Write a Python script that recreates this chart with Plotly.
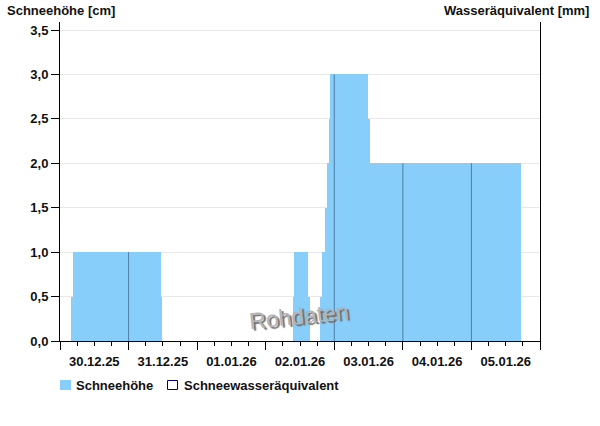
import plotly.graph_objects as go
import pandas as pd

# Snow height (cm): step changes (time the value starts, value)
change_times = [
    "2025-12-30 04:10", "2025-12-30 04:30", "2025-12-31 11:20", "2025-12-31 11:40",
    "2026-01-02 09:40", "2026-01-02 10:00", "2026-01-02 14:50", "2026-01-02 15:10",
    "2026-01-02 19:20", "2026-01-02 19:40", "2026-01-02 21:00", "2026-01-02 21:20",
    "2026-01-02 22:10", "2026-01-02 22:30", "2026-01-03 11:50", "2026-01-03 12:10",
    "2026-01-05 17:20",
]
snow_cm = [0.5, 1.0, 0.5, 0.0, 0.5, 1.0, 0.5, 0.0,
           0.5, 1.0, 1.5, 2.0, 2.5, 3.0, 2.5, 2.0, 0.0]

# Snow water equivalent (mm): no values in this period
swe_times = []
swe_mm = []

legend_names = ["Schneehöhe", "Schneewasseräquivalent"]

x_start = "2025-12-30"
x_end = "2026-01-06"
day_labels_fmt = "%d.%m.%y"

t = pd.to_datetime(change_times)

bx, by, bw = [], [], []
for i in range(len(t) - 1):
    if snow_cm[i] > 0:
        bx.append(t[i])
        by.append(snow_cm[i])
        bw.append((t[i + 1] - t[i]).total_seconds() * 1000)


def value_at(ts):
    v = 0.0
    for ti, vi in zip(t, snow_cm):
        if ti <= ts:
            v = vi
    return v


lx, ly = [], []
for d in pd.date_range(x_start, x_end, freq="D")[1:-1]:
    v = value_at(d)
    if v > 0:
        lx += [d, d, None]
        ly += [0, v, None]

FONT = "Liberation Sans, Arial, sans-serif"
TXT = "#111111"

fig = go.Figure()
fig.add_trace(go.Bar(
    x=bx, y=by, width=bw, offset=0, name=legend_names[0],
    marker=dict(color="#87cefa", line=dict(width=0)),
    hoverinfo="skip", showlegend=False,
))
fig.add_trace(go.Bar(
    x=swe_times if swe_times else [None], y=swe_mm if swe_mm else [None],
    name=legend_names[1],
    marker=dict(color="white", line=dict(color="#00007f", width=1)),
    showlegend=False,
))
fig.add_trace(go.Scatter(
    x=lx, y=ly, mode="lines", line=dict(color="#4f7ea6", width=1),
    showlegend=False, hoverinfo="skip",
))

PW, PH, L, B = 480.0, 319.0, 60.0, 341.0


def px(xp):
    return (xp - L) / PW


def py(yp):
    return (B - yp) / PH


shapes = [
    dict(type="rect", xref="paper", yref="paper", x0=px(60), x1=px(71), y0=py(390), y1=py(380),
         fillcolor="#87cefa", line=dict(width=0)),
    dict(type="rect", xref="paper", yref="paper", x0=px(167.5), x1=px(177.5), y0=py(389.5), y1=py(380.5),
         fillcolor="white", line=dict(color="#00007f", width=1)),
]

fig.update_layout(
    width=600, height=426,
    margin=dict(l=60, r=60, t=22, b=85),
    paper_bgcolor="white", plot_bgcolor="white",
    separators=",.",
    font=dict(family=FONT, size=13, color=TXT),
    bargap=0,
    showlegend=False,
    xaxis=dict(
        type="date", range=[x_start, x_end],
        tick0=x_start, dtick=86400000, tickformat=day_labels_fmt, ticklabelmode="period",
        ticks="outside", ticklen=8, tickcolor="black", tickwidth=1,
        showline=True, linecolor="black", linewidth=1, showgrid=False, zeroline=False,
        tickfont=dict(family=FONT, size=13, weight="bold", color=TXT),
        minor=dict(dtick=6 * 3600000, ticks="outside", ticklen=4, tickcolor="black", showgrid=False),
    ),
    yaxis=dict(
        range=[0, 3.59], dtick=0.5, tick0=0, tickformat=".1f",
        ticks="outside", ticklen=8, tickcolor="black",
        showline=True, mirror=True, linecolor="black", linewidth=1,
        showgrid=True, gridcolor="#e8e8e8", zeroline=False,
        tickfont=dict(family=FONT, size=13, weight="bold", color=TXT),
    ),
    shapes=shapes,
    annotations=[
        dict(text="Schneehöhe [cm]", xref="paper", yref="paper", x=px(5), y=py(10.5),
             xanchor="left", yanchor="middle", showarrow=False,
             font=dict(family=FONT, size=13, weight="bold", color=TXT)),
        dict(text="Wasseräquivalent [mm]", xref="paper", yref="paper", x=px(591), y=py(10.5),
             xanchor="right", yanchor="middle", showarrow=False,
             font=dict(family=FONT, size=13, weight="bold", color=TXT)),
        dict(text=legend_names[0], xref="paper", yref="paper", x=px(74), y=py(385.5),
             xanchor="left", yanchor="middle", showarrow=False,
             font=dict(family=FONT, size=13, weight="bold", color=TXT)),
        dict(text=legend_names[1], xref="paper", yref="paper", x=px(182), y=py(385.5),
             xanchor="left", yanchor="middle", showarrow=False,
             font=dict(family=FONT, size=13, weight="bold", color=TXT)),
        dict(text="Rohdaten", xref="paper", yref="paper", x=px(299), y=py(316),
             xanchor="center", yanchor="middle", showarrow=False, textangle=-6,
             font=dict(family=FONT, size=23, color="#b4b4b4", shadow="2px 2px 1px #6e6e6e")),
    ],
)

fig.write_html("out.html", config={"displayModeBar": False},
               post_script="document.body.style.margin='0';")
